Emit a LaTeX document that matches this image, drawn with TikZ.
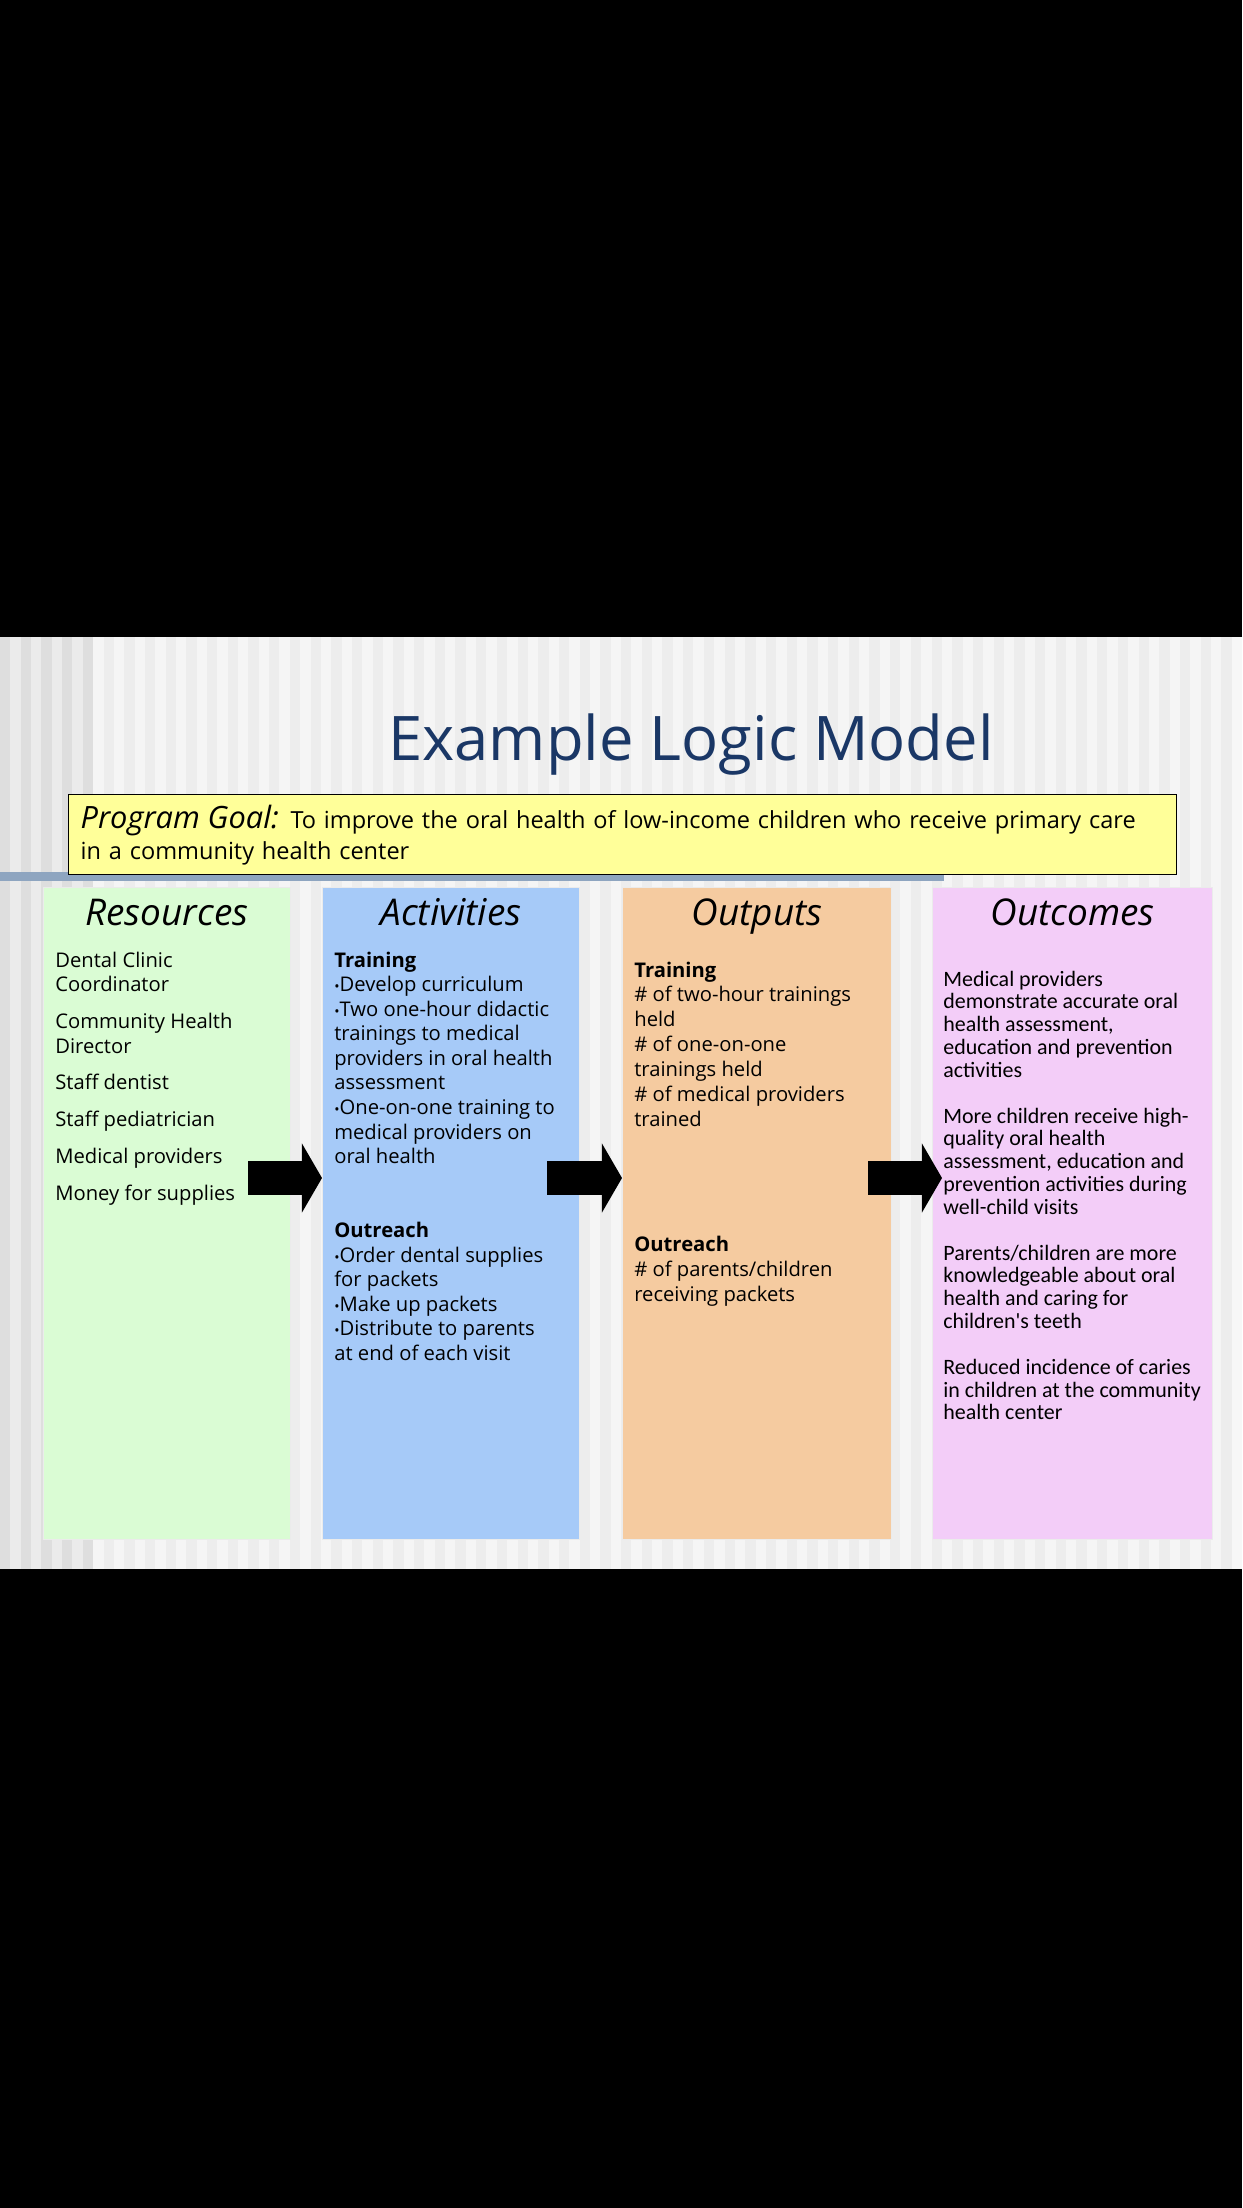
\documentclass[tikz,border=0pt]{standalone}
\usepackage{fontspec}
\setmainfont{Open Sans}
\newfontfamily\narrowfont{Carlito}
\usetikzlibrary{arrows.meta}

\definecolor{titlenavy}{HTML}{1A3766}
\definecolor{goalyellow}{HTML}{FFFF99}
\definecolor{resgreen}{HTML}{DAFCD4}
\definecolor{actblue}{HTML}{A6CAF8}
\definecolor{outorange}{HTML}{F5CBA0}
\definecolor{ocpink}{HTML}{F3CDF8}
\definecolor{barblue}{HTML}{8EA5C0}
\newcommand{\bul}{{\footnotesize\textbullet}}
% lines hung from the baseline of the first one
\newcommand{\toplines}[1]{\begin{tabular}[t]{@{}l@{}}#1\end{tabular}}

\begin{document}
\begin{tikzpicture}[x=0.02cm, y=-0.02cm,
    col/.style={rectangle, anchor=north west, inner sep=0pt, draw=black!8, line width=0.6pt, minimum height=13.04cm},
    head/.style={anchor=base, inner sep=0pt, font=\fontsize{21}{24}\selectfont\itshape},
    body/.style={anchor=base west, inner sep=0pt, font=\fontsize{11.5}{14}\selectfont},
    blockarr/.style={line width=19.3pt, -{Triangle[length=11.4pt, width=39.3pt, line width=0pt]}}]
  % page and slide
  \fill[black] (0,0) rectangle (1242,2208);
  \useasboundingbox (0,0) rectangle (1242,2208);
  \fill[black!4] (0,637) rectangle (1242,1569);
  \foreach \i in {5,...,59}
    \fill[black!7] ({\i*20.7},637) rectangle ++(10.35,932);
  \fill[black!8] (0,637) rectangle (93,1569);
  \foreach \i in {0,...,4}
    \fill[black!13] ({\i*20.7},637) rectangle ++(10.35,932);
  \fill[black!3] (1232,637) rectangle (1242,1569);

  % title and goal
  \node[anchor=base, inner sep=0pt, text=titlenavy, font=\fontsize{35}{40}\selectfont] (ttl) at (691,760) {Example Logic Model};
  \fill[barblue] (0,872) rectangle (944,881);
  \node[rectangle, anchor=north west, draw=black, line width=0.8pt, fill=goalyellow, minimum width=22.16cm, minimum height=1.6cm,
        inner xsep=0.24cm, text width=21.68cm, align=left, font=\fontsize{13.4}{17.6}\selectfont] (goal) at (68,794)
    {{\fontsize{17.5}{17.6}\selectfont\itshape Program Goal:} To improve the oral health of low-income children who receive primary care\\in a community health center};

  % columns
  \node[col, fill=resgreen, minimum width=4.94cm] (res) at (43,887) {};
  \node[col, fill=actblue, minimum width=5.14cm] (act) at (322,887) {};
  \node[col, fill=outorange, minimum width=5.38cm] (out) at (622,887) {};
  \node[col, fill=ocpink, minimum width=5.6cm] (oc) at (932,887) {};

  \node[head] (reshd) at (res.north |- 0,925) {Resources};
  \node[head] (acthd) at (act.north |- 0,925) {Activities};
  \node[head] (outhd) at (out.north |- 0,925) {Outputs};
  \node[head] (ochd) at (oc.north |- 0,925) {Outcomes};

  \node[body] (restxt) at (55,967) {\toplines{Dental Clinic\\Coordinator\\[7pt]
    Community Health\\Director\\[7pt]
    Staff dentist\\[7pt]
    Staff pediatrician\\[7pt]
    Medical providers\\[7pt]
    Money for supplies}};

  \node[body] (acttxt) at (334,967) {\toplines{\textbf{Training}\\
    \bul Develop curriculum\\
    \bul Two one-hour didactic\\trainings to medical\\providers in oral health\\assessment\\
    \bul One-on-one training to\\medical providers on\\oral health\\[28pt]
    \textbf{Outreach}\\
    \bul Order dental supplies\\for packets\\
    \bul Make up packets\\
    \bul Distribute to parents\\at end of each visit}};

  \node[body, font=\fontsize{11.5}{14.2}\selectfont] (outtxt) at (634,977) {\toplines{\textbf{Training}\\
    \# of two-hour trainings\\held\\
    \# of one-on-one\\trainings held\\
    \# of medical providers\\trained\\[57pt]
    \textbf{Outreach}\\
    \# of parents/children\\receiving packets}};

  \node[body, font=\narrowfont\fontsize{12.5}{13}\selectfont] (octxt) at (943,986) {\toplines{Medical providers\\demonstrate accurate oral\\health assessment,\\education and prevention\\activities\\[13pt]
    More children receive high-\\quality oral health\\assessment, education and\\prevention activities during\\well-child visits\\[13pt]
    Parents/children are more\\knowledgeable about oral\\health and caring for\\children's teeth\\[13pt]
    Reduced incidence of caries\\in children at the community\\health center}};

  % arrows
  \coordinate (a1) at (248,1178);
  \coordinate (a2) at (547,1178);
  \coordinate (a3) at (868,1178);
  \draw[blockarr] (a1) -- (a1 -| act.west);
  \draw[blockarr] (a2) -- (a2 -| out.west);
  \draw[blockarr] (a3) -- ([xshift=0.2cm]a3 -| oc.west);
\end{tikzpicture}
\end{document}
